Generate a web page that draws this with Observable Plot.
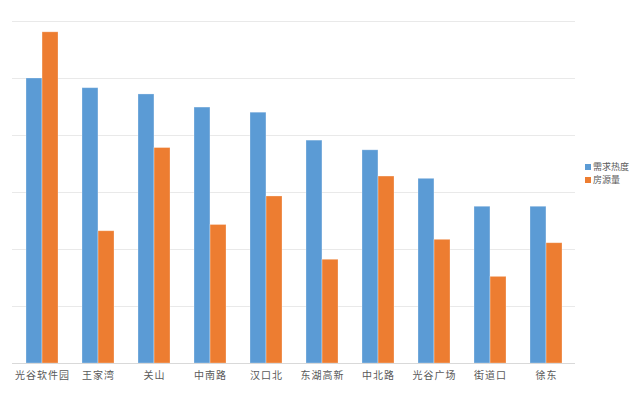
<!DOCTYPE html>
<html>
<head>
<meta charset="utf-8">
<script src="https://cdn.jsdelivr.net/npm/d3@7"></script>
<script src="https://cdn.jsdelivr.net/npm/@observablehq/plot@0.6"></script>
<style>
  html, body { margin: 0; padding: 0; background: #fff; }
  #wrap { position: relative; width: 641px; height: 395px; font-family: "Noto Sans CJK SC", "Noto Sans", sans-serif; }
  #legend { position: absolute; left: 585px; top: 160px; font-size: 9px; color: #595959; }
  #legend .item { display: flex; align-items: center; white-space: nowrap; height: 13px; line-height: 13px; }
  #legend .sw { width: 6px; height: 6px; margin-right: 2px; }
</style>
</head>
<body>
<div id="wrap"><div id="legend"></div></div>
<script>
const categories = ["光谷软件园", "王家湾", "关山", "中南路", "汉口北", "东湖高新", "中北路", "光谷广场", "街道口", "徐东"];
const demand = [5.0, 4.83, 4.72, 4.49, 4.40, 3.91, 3.74, 3.24, 2.75, 2.75];
const supply = [5.81, 2.32, 3.78, 2.43, 2.93, 1.82, 3.28, 2.17, 1.52, 2.11];
const seriesNames = ["需求热度", "房源量"];
const seriesColors = ["#5b9bd5", "#ed7d31"];
const gridTicks = [1, 2, 3, 4, 5, 6];

const data = categories.map((c, i) => ({cat: c, demand: demand[i], supply: supply[i]}));

const width = 641, height = 395, marginLeft = 12, marginRight = 66;
const paddingInner = 0.43, paddingOuter = 0.215;
const step = (width - marginLeft - marginRight) / categories.length;
const half = step * (1 - paddingInner) / 2;

const chart = Plot.plot({
  width, height,
  marginLeft, marginRight,
  marginTop: 21, marginBottom: 32,
  style: {fontFamily: '"Noto Sans CJK SC", "Noto Sans", sans-serif', fontSize: "10px", color: "#595959", background: "#fff", letterSpacing: "1px"},
  x: {domain: categories, paddingInner, paddingOuter, label: null, tickSize: 0, tickPadding: 8},
  y: {domain: [0, 6], axis: null},
  marks: [
    Plot.ruleY(gridTicks, {stroke: "#e9e9e9", strokeWidth: 1}),
    Plot.barY(data, {x: "cat", y: "demand", fill: seriesColors[0], insetRight: half, stroke: "#fff", strokeOpacity: 0.35, strokeWidth: 0.8}),
    Plot.barY(data, {x: "cat", y: "supply", fill: seriesColors[1], insetLeft: half, stroke: "#fff", strokeOpacity: 0.35, strokeWidth: 0.8}),
    Plot.ruleY([0], {stroke: "#d9d9d9", strokeWidth: 1})
  ]
});
const wrap = document.getElementById("wrap");
wrap.insertBefore(chart, wrap.firstChild);

const legend = document.getElementById("legend");
seriesNames.forEach((n, i) => {
  const it = document.createElement("div");
  it.className = "item";
  it.innerHTML = `<span class="sw" style="background:${seriesColors[i]}"></span><span>${n}</span>`;
  legend.appendChild(it);
});
</script>
</body>
</html>
